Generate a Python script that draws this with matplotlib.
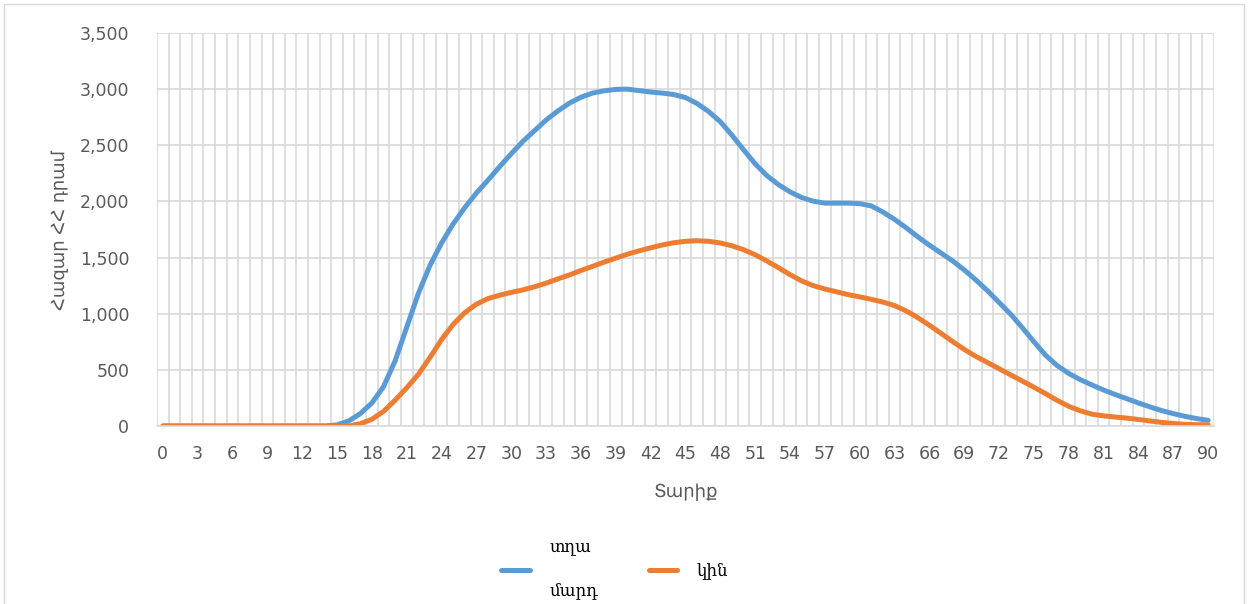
import matplotlib
matplotlib.use("Agg")
import matplotlib.pyplot as plt
import numpy as np
from matplotlib.patches import Rectangle
from matplotlib.ticker import FuncFormatter

ages = list(range(0, 91))

male = [0]*15 + [
    10, 45, 110, 205, 350, 580, 880, 1180, 1430, 1630,            # 15-24
    1800, 1945, 2075, 2190, 2310, 2425, 2535, 2630, 2725, 2805,   # 25-34
    2875, 2928, 2965, 2985, 2998, 3000, 2987, 2974, 2965, 2952,   # 35-44
    2925, 2872, 2800, 2710, 2590, 2460, 2335, 2230, 2150, 2085,   # 45-54
    2035, 2002, 1985, 1985, 1985, 1980, 1960, 1905, 1840, 1765,   # 55-64
    1685, 1610, 1540, 1470, 1390, 1300, 1205, 1100, 995, 875,     # 65-74
    750, 630, 538, 468, 412, 365, 320, 280, 243, 205,             # 75-84
    170, 137, 110, 86, 66, 50]                                    # 85-90

female = [0]*17 + [
    20, 60, 130, 230, 340, 460, 610, 770,                         # 17-24
    905, 1010, 1085, 1135, 1165, 1190, 1212, 1240, 1272, 1310,    # 25-34
    1345, 1385, 1422, 1460, 1495, 1530, 1560, 1587, 1612, 1632,   # 35-44
    1645, 1650, 1645, 1630, 1605, 1570, 1525, 1470, 1410, 1348,   # 45-54
    1292, 1250, 1220, 1195, 1170, 1150, 1128, 1104, 1072, 1025,   # 55-64
    965, 897, 825, 752, 682, 620, 565, 510, 455, 400,             # 65-74
    345, 288, 228, 175, 135, 105, 90, 80, 70, 58,                 # 75-84
    45, 32, 22, 15, 12, 10]                                       # 85-90

labels = ["տղա\nմարդ", "կին"]
xtick_vals = list(range(0, 91, 3))

gray = "#595959"
fig = plt.figure(figsize=(12.48, 6.04), dpi=100)
ax = fig.add_axes([157/1248, 1 - 426/604, (1214-157)/1248, (426-33)/604])

ax.plot(ages, male, color="#5B9BD5", lw=3.6, solid_capstyle="round",
        solid_joinstyle="round", label=labels[0])
ax.plot(ages, female, color="#ED7D31", lw=3.6, solid_capstyle="round",
        solid_joinstyle="round", label=labels[1])

ax.set_xlim(-0.5, 90.5)
ax.set_ylim(0, 3500)
ax.set_yticks(np.arange(0, 3501, 500))
ax.yaxis.set_major_formatter(FuncFormatter(lambda v, p: f"{int(v):,}"))
ax.set_xticks(xtick_vals)
ax.set_xticks(np.arange(-0.5, 91, 1), minor=True)

ax.grid(axis="y", which="major", color="#D9D9D9", lw=1.2)
ax.grid(axis="x", which="minor", color="#D9D9D9", lw=1.2)
ax.set_axisbelow(True)
for s in ["top", "right", "left"]:
    ax.spines[s].set_visible(False)
ax.spines["bottom"].set_color("#D9D9D9")
ax.spines["bottom"].set_linewidth(1.2)
ax.tick_params(which="both", length=0)
ax.tick_params(axis="x", pad=14, labelsize=12.5, labelcolor=gray)
ax.tick_params(axis="y", pad=20, labelsize=12.5, labelcolor=gray)

ax.set_xlabel("Տարիք", fontsize=13, color=gray, labelpad=14)
ax.set_ylabel("Հազար ՀՀ դրամ", fontsize=13, color=gray, labelpad=8)

leg = fig.legend(loc="center", bbox_to_anchor=(615/1248, 1 - 569/604), ncol=2, frameon=False,
                 prop={"family": "DejaVu Serif", "size": 12}, handlelength=1.7,
                 columnspacing=3.0, handletextpad=1.2)
for t in leg.get_texts():
    t.set_linespacing(3.0)

fig.patches.append(Rectangle((4/1248, -0.1), 1 - 8/1248, 1.1 - 4/604, transform=fig.transFigure,
                             fill=False, edgecolor="#D9D9D9", lw=1))

fig.savefig("out.png", dpi=100)
